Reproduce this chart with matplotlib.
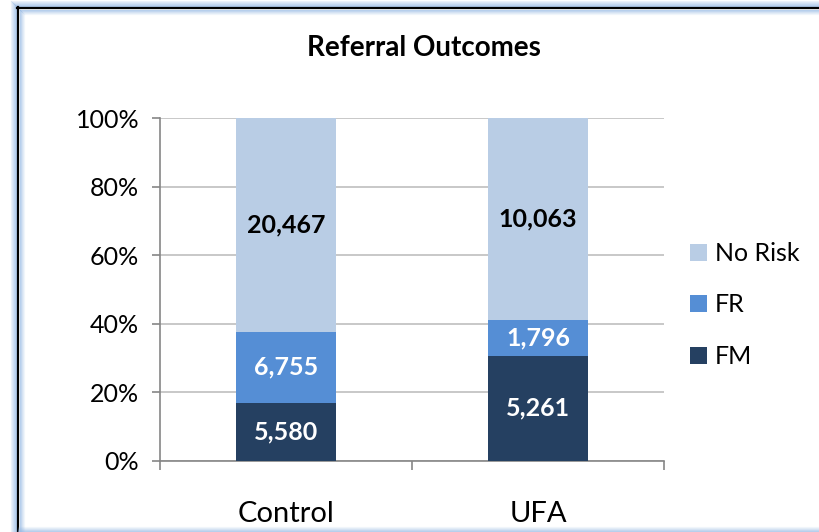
import matplotlib.pyplot as plt
from matplotlib.lines import Line2D
import numpy as np

plt.rcParams['font.family'] = ['Lato', 'DejaVu Sans']

groups = ["Control", "UFA"]
series = ["FM", "FR", "No Risk"]
fm = [5580, 5261]
fr = [6755, 1796]
no_risk = [20467, 10063]
colors = {"FM": "#254061", "FR": "#558ED5", "No Risk": "#B9CDE5"}
text_colors = {"FM": "white", "FR": "white", "No Risk": "black"}

counts = np.array([fm, fr, no_risk], dtype=float)
shares = counts / counts.sum(axis=0) * 100

W, H = 820, 532
fig = plt.figure(figsize=(W / 100, H / 100), dpi=100)
ax = fig.add_axes([160 / W, 1 - 461 / H, 504 / W, 343 / H])

x = np.arange(len(groups))
bottom = np.zeros(len(groups))
bars = {}
for name, row, cnt in zip(series, shares, counts):
    bars[name] = ax.bar(x, row, 0.4, bottom=bottom, color=colors[name], label=name, zorder=3)
    for xi, b, h, c in zip(x, bottom, row, cnt):
        ax.text(xi, b + h / 2, f"{int(c):,}", ha="center", va="center",
                fontsize=18, fontweight="bold", color=text_colors[name], zorder=4)
    bottom += row

ax.set_xlim(-0.5, 1.5)
ax.set_ylim(0, 100)
ax.set_yticks(range(0, 101, 20))
ax.set_yticklabels([f"{v}%" for v in range(0, 101, 20)], fontsize=18)
ax.yaxis.grid(True, color="#BFBFBF", linewidth=1.2, zorder=0)
ax.set_xticks([-0.5, 0.5, 1.5])
ax.set_xticklabels([])
ax.set_xticks(x, minor=True)
ax.set_xticklabels(groups, minor=True, fontsize=21)
ax.tick_params(axis="x", which="minor", length=0, pad=29)
ax.tick_params(axis="x", which="major", length=6.5, color="#868686", width=1.2)
ax.tick_params(axis="y", length=6, color="#868686", width=1.2, pad=9)
for s in ["top", "right"]:
    ax.spines[s].set_visible(False)
for s in ["left", "bottom"]:
    ax.spines[s].set_color("#868686")
    ax.spines[s].set_linewidth(1.2)

fig.text(424 / W, 1 - 48 / H, "Referral Outcomes", ha="center", va="center",
         fontsize=20, fontweight="bold")

handles = [bars[n] for n in ["No Risk", "FR", "FM"]]
fig.legend(handles, ["No Risk", "FR", "FM"], loc="center left",
           bbox_to_anchor=(680 / W, 1 - 305 / H), frameon=False, fontsize=18,
           borderaxespad=0, handlelength=0.68, handleheight=0.68,
           handletextpad=0.32, labelspacing=1.14)

# window frame with blue glow
def hline(y, x0, x1, color, lw, alpha=1.0):
    fig.add_artist(Line2D([x0 / W, x1 / W], [1 - y / H, 1 - y / H], color=color,
                          lw=lw, alpha=alpha, transform=fig.transFigure))

def vline(x0, y0, y1, color, lw, alpha=1.0):
    fig.add_artist(Line2D([x0 / W, x0 / W], [1 - y0 / H, 1 - y1 / H], color=color,
                          lw=lw, alpha=alpha, transform=fig.transFigure))

glow = "#8DB3E2"
for d, a in [(7, 0.15), (6, 0.25), (5, 0.35), (4, 0.45), (3, 0.55), (2, 0.65)]:
    hline(8 - d, 18 - d, W, glow, 0.9, a)
    vline(18 - d, 8 - d, H, glow, 0.9, a)
for d, a in [(2, 0.6), (3, 0.45), (4, 0.3), (5, 0.2), (6, 0.1)]:
    hline(8 + d, 18 + d, W, glow, 0.9, a)
    vline(18 + d, 8 + d, H, glow, 0.9, a)
hline(8, 17, W, "black", 1.6)
vline(18, 7, H, "black", 1.6)
for d, a in [(0, 0.6), (1, 0.45), (2, 0.3), (3, 0.2), (4, 0.1)]:
    hline(H - 1 - d, 18, W, glow, 0.9, a)

fig.savefig("out.png", dpi=100)
